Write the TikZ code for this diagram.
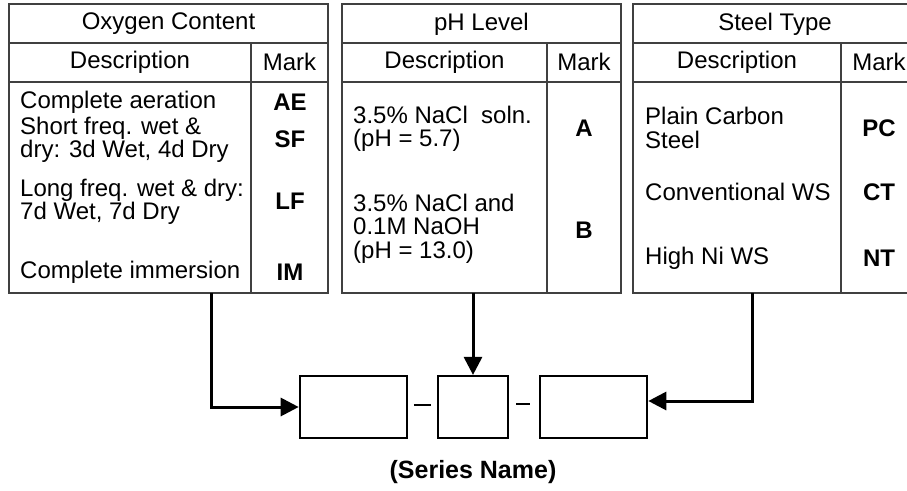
\documentclass[tikz,border=0pt]{standalone}
\usepackage{fontspec}
\setmainfont{Liberation Sans}
\usetikzlibrary{positioning,arrows.meta}

\begin{document}
\begin{tikzpicture}[x = 1pt, y = -1pt,
		frame/.style = {draw = black!75, line width = 1.2pt, inner sep = 0pt, outer sep = 0pt, anchor = north west},
		rule/.style = {draw = black!75, line width = 1.2pt},
		txt/.style = {font = \fontsize{24}{23.4}\selectfont, inner sep = 0pt},
		desc/.style = {txt, align = left, anchor = west},
		code/.style = {inner sep = 0pt, font = \bfseries\fontsize{24}{23.4}\selectfont},
		slot/.style = {draw, line width = 2.2pt, inner sep = 0pt, minimum height = 62pt},
		feed/.style = {line width = 3pt, -{Triangle[length = 18pt, width = 18pt]}}]
	%	page
	\clip (0, 0) rectangle (907, 490);
	
	%	tables
	\def\ytop{4}
	\def\ybot{293}
	\foreach \n/\l/\d/\r/\t in {oxy/9/251/328/Oxygen Content, ph/342/547/621/pH Level, steel/633/841/917/Steel Type}{
		\node[frame, minimum width = \r pt - \l pt, minimum height = \ybot pt - \ytop pt] (\n) at (\l, \ytop) {};
		\draw[rule] (\l, 43) -- (\r, 43);
		\draw[rule] (\l, 82) -- (\r, 82);
		\draw[rule] (\d, 43) -- (\d, \ybot);
		\node[txt] (\n-title) at ({(\l + \r)/2}, 24) {\t};
		\node[txt] (\n-desc) at ({(\l + \d)/2}, 62) {Description};
		\node[txt] (\n-mark) at ({(\d + \r)/2}, 62) {Mark};
	}
	
	%	oxygen content
	\node[desc] (ae-d) at (20, 102) {Complete aeration};
	\node[desc] (sf-d) at (20, 139.5) {Short freq. wet \&\\dry: 3d Wet, 4d Dry};
	\node[desc] (lf-d) at (20, 201.5) {Long freq. wet \& dry:\\7d Wet, 7d Dry};
	\node[desc] (im-d) at (20, 272) {Complete immersion};
	\node[code] (ae) at (290, 102) {AE};
	\node[code] (sf) at (290, 139) {SF};
	\node[code] (lf) at (290, 201) {LF};
	\node[code] (im) at (290, 272) {IM};
	
	%	ph level
	\node[desc] (a-d) at (353, 128.5) {3.5\% NaCl\ \ soln.\\(pH = 5.7)};
	\node[desc] (b-d) at (353, 228.5) {3.5\% NaCl and\\0.1M NaOH\\(pH = 13.0)};
	\node[code] (a) at (584, 128) {A};
	\node[code] (b) at (584, 230) {B};
	
	%	steel type
	\node[desc] (pc-d) at (645, 128) {Plain Carbon\\Steel};
	\node[desc] (ct-d) at (645, 192) {Conventional WS};
	\node[desc] (nt-d) at (645, 258) {High Ni WS};
	\node[code] (pc) at (879, 128) {PC};
	\node[code] (ct) at (879, 192) {CT};
	\node[code] (nt) at (879, 258) {NT};
	
	%	series name
	\node[slot, minimum width = 70pt] (slotB) at (473, 407) {};
	\node[slot, minimum width = 107pt, left = 29pt of slotB] (slotA) {};
	\node[slot, minimum width = 107pt, right = 30pt of slotB] (slotC) {};
	\draw[line width = 2pt] ([xshift = 6pt, yshift = 2pt]slotA.east) -- ([xshift = -6pt, yshift = 2pt]slotB.west);
	\draw[line width = 2pt] ([xshift = 7pt, yshift = 3pt]slotB.east) -- ([xshift = -9pt, yshift = 3pt]slotC.west);
	\node[inner sep = 0pt, font = \bfseries\fontsize{25}{30}\selectfont, below = 21pt of slotB] (series) {(Series Name)};
	
	%	arrows
	\draw[feed] ([xshift = 202pt]oxy.south west) |- (slotA);
	\draw[feed] (ph.south -| slotB) -- (slotB);
	\draw[feed] ([xshift = 119pt]steel.south west) |- ([yshift = 6pt]slotC.east);
\end{tikzpicture}
\end{document}
